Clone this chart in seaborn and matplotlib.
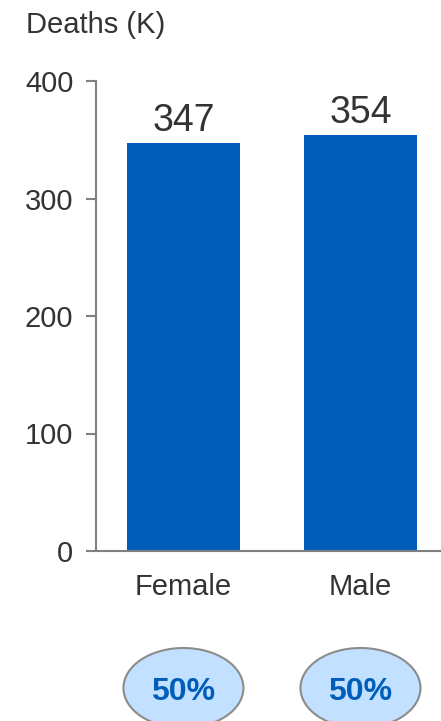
import matplotlib
matplotlib.use("Agg")
import matplotlib.pyplot as plt
from matplotlib.patches import Ellipse
from matplotlib.transforms import blended_transform_factory
import seaborn as sns
import pandas as pd

# Deaths by sex, in thousands
sexes = ["Female", "Male"]
deaths_k = [347, 354]
y_ticks = [0, 100, 200, 300, 400]

BAR_BLUE = "#005EB8"
AXIS_GREY = "#808080"
TEXT_DARK = "#333333"

sns.set_theme(style="white")
plt.rcParams["font.family"] = ["Liberation Sans", "DejaVu Sans"]

df = pd.DataFrame({"sex": sexes, "deaths": deaths_k})

fig = plt.figure(figsize=(4.41, 7.21), dpi=100)
ax = fig.add_axes([96 / 441, 1 - 551 / 721, 1 - 96 / 441, (551 - 81) / 721])

sns.barplot(data=df, x="sex", y="deaths", color=BAR_BLUE, saturation=1,
            width=0.64, linewidth=0, ax=ax)

ax.set_ylim(0, 400)
ax.set_xlim(-0.494, 1.455)
ax.set_yticks(y_ticks)
ax.set_xlabel("")
ax.set_ylabel("")

for side in ("top", "right"):
    ax.spines[side].set_visible(False)
for side in ("left", "bottom"):
    ax.spines[side].set_color(AXIS_GREY)
    ax.spines[side].set_linewidth(1.5)

ax.tick_params(axis="y", length=7.2, width=1.5, color=AXIS_GREY, pad=9,
               labelsize=21, labelcolor=TEXT_DARK, left=True)
ax.tick_params(axis="x", length=0, pad=16, labelsize=21, labelcolor=TEXT_DARK)

# value labels above bars
for i, v in enumerate(deaths_k):
    ax.annotate(f"{v}", xy=(i, v), xytext=(0, 8.6), textcoords="offset points",
                ha="center", va="baseline", fontsize=27, color=TEXT_DARK)

# share of total in ellipses below the categories
total = sum(deaths_k)
trans = blended_transform_factory(ax.transData, fig.transFigure)
for i, v in enumerate(deaths_k):
    share = round(100 * v / total)
    e = Ellipse((i, 1 - 688 / 721), width=0.678, height=80 / 721,
                transform=trans, facecolor="#C2E0FF", edgecolor="#8C8C8C",
                linewidth=1.5, clip_on=False, zorder=5)
    ax.add_patch(e)
    ax.text(i, 1 - 700 / 721, f"{share}%", transform=trans,
            ha="center", va="baseline", fontsize=23, fontweight="bold",
            color=BAR_BLUE, clip_on=False, zorder=6)

fig.text(26 / 441, 1 - 33 / 721, "Deaths (K)", ha="left", va="baseline",
         fontsize=21, color=TEXT_DARK)

fig.savefig("out.png", dpi=100)
